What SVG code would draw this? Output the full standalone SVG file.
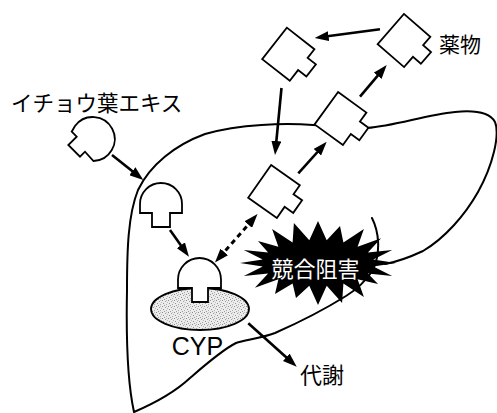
<svg xmlns="http://www.w3.org/2000/svg" xmlns:xlink="http://www.w3.org/1999/xlink" width="497" height="413" viewBox="0 0 497 413">
  <style>
    .outline { fill: none; stroke: #000; stroke-width: 2; stroke-linejoin: round; stroke-linecap: round; }
    .shape { fill: #fff; stroke: #000; stroke-width: 1.8; stroke-linejoin: miter; }
    .arrow { fill: none; stroke: #000; stroke-width: 2.6; marker-end: url(#head); }
    .dashed { fill: none; stroke: #000; stroke-width: 3; stroke-dasharray: 5 4; marker-start: url(#head); marker-end: url(#head); }
    .jp { font-family: "Noto Sans CJK JP", "Noto Sans CJK SC", sans-serif; fill: #000; }
    .latin { font-family: "Liberation Sans", Arial, sans-serif; fill: #000; }
  </style>
  <defs>
    <marker id="head" viewBox="0 0 14 10" refX="7" refY="5" markerWidth="14" markerHeight="10" markerUnits="userSpaceOnUse" orient="auto-start-reverse">
      <path d="M0,0 L14,5 L0,10 Z" fill="#000"/>
    </marker>
    <!-- drug molecule: box with a plug-shaped tab -->
    <path id="drug" d="M-17.5,-20 H17.5 V-9 H28 V6.5 H17.5 V20 H-17.5 Z"/>
    <!-- fine stipple used for the enzyme body -->
    <pattern id="stipple" width="6" height="6" patternUnits="userSpaceOnUse">
      <rect width="6" height="6" fill="#ececec"/>
      <rect x="0" y="0" width="1" height="1" fill="#8c8c8c"/>
      <rect x="3" y="1" width="1" height="1" fill="#a0a0a0"/>
      <rect x="1" y="3" width="1" height="1" fill="#909090"/>
      <rect x="4" y="4" width="1" height="1" fill="#a8a8a8"/>
      <rect x="5" y="2" width="1" height="1" fill="#b8b8b8"/>
      <rect x="2" y="5" width="1" height="1" fill="#9a9a9a"/>
      <rect x="4" y="0" width="1" height="1" fill="#c0c0c0"/>
    </pattern>
  </defs>

  <rect width="497" height="413" fill="#fff"/>

  <!-- liver outline -->
  <g id="liver">
    <path class="outline" d="M372,218 C379,232 381,252 373,270 C365,282 356,290 346,296 C330,306 300,322 275,333 C262,338 245,340 236,343 C222,350 205,365 190,378 C175,392 155,403 134,412 C128,385 126,340 127,290 C127,250 128,215 138,190 C150,165 175,145 205,134 C240,124 285,123 313,125 L367,128 C395,126 425,115 455,112 C475,110 490,113 495,122 C500,135 493,165 478,192 C465,215 445,238 423,251 C408,258 396,262 385,264"/>
  </g>

  <!-- competitive inhibition burst -->
  <g id="burst">
    <polygon fill="#000" points="396,263 373.3,266.6 392.2,276 367.9,273.4 378,284 357.6,279.3 363.9,297 343.4,283.5 342.1,302.9 326.7,285.7 318,305 309.3,285.7 296,298 292.6,283.5 275,294 278.4,279.3 254.9,287.7 268.1,273.4 243.8,276 262.7,266.6 240,263 262.7,259.4 243.8,250 268.1,252.6 258,241 278.4,246.7 272.1,229 292.6,242.5 293.9,223.1 309.3,240.3 318,221 326.7,240.3 340,226 343.4,242.5 363.9,229 357.6,246.7 381.1,238.3 367.9,252.6 392.2,250 373.3,259.4"/>
    <text class="jp" x="271.5" y="277" font-size="22" style="fill:#fff">競合阻害</text>
  </g>

  <!-- enzyme -->
  <g id="cyp">
    <ellipse cx="200" cy="309" rx="49" ry="21" fill="url(#stipple)" stroke="#000" stroke-width="1.8"/>
    <text class="latin" x="197.5" y="355" font-size="25" text-anchor="middle">CYP</text>
  </g>

  <!-- ginkgo extract molecules -->
  <g id="ginkgo-outside">
    <path class="shape" d="M75,126 L71.7,131.7 L76.7,136.7 L68.3,145 L80,156.7 L85,151.7 L93.5,161 A22,22 0 1 0 75,126 Z"/>
  </g>
  <g id="ginkgo-liver">
    <path class="shape" d="M140,204 A21,21 0 0 1 182,204 V213 H170 V227 H152 V213 H140 Z"/>
  </g>
  <g id="ginkgo-bound">
    <path class="shape" d="M178,279.5 A21.5,21.5 0 0 1 221,279.5 V288 H208 V302 H192 V288 H178 Z"/>
  </g>

  <!-- drug molecules -->
  <g id="drug-top-left">
    <use xlink:href="#drug" class="shape" transform="translate(288.3,54.2) rotate(38)"/>
  </g>
  <g id="drug-top-right">
    <use xlink:href="#drug" class="shape" transform="translate(404,40.5) rotate(41)"/>
  </g>
  <g id="drug-edge">
    <use xlink:href="#drug" class="shape" transform="translate(340.5,118.5) rotate(36)"/>
  </g>
  <g id="drug-inner">
    <use xlink:href="#drug" class="shape" transform="translate(274,191.5) rotate(35)"/>
  </g>

  <!-- labels -->
  <g id="labels">
    <text class="jp" x="11" y="111" font-size="21.5">イチョウ葉エキス</text>
    <text class="jp" x="439" y="51.5" font-size="21">薬物</text>
    <text class="jp" x="300" y="383" font-size="22">代謝</text>
  </g>

  <!-- connectors -->
  <g id="connectors">
    <line class="arrow" x1="112" y1="155" x2="137.8" y2="175.6"/>
    <line class="arrow" x1="170" y1="230" x2="184.9" y2="251"/>
    <line class="dashed" x1="219.6" y1="257.2" x2="252.9" y2="219.3"/>
    <line class="arrow" x1="281.5" y1="88" x2="275.7" y2="148"/>
    <line class="arrow" x1="298.3" y1="173.3" x2="322" y2="147"/>
    <line class="arrow" x1="360" y1="96.7" x2="382.2" y2="70.4"/>
    <line class="arrow" x1="380" y1="29.3" x2="321.6" y2="37"/>
    <line class="arrow" x1="248.3" y1="323.3" x2="291.5" y2="362"/>
  </g>
</svg>
